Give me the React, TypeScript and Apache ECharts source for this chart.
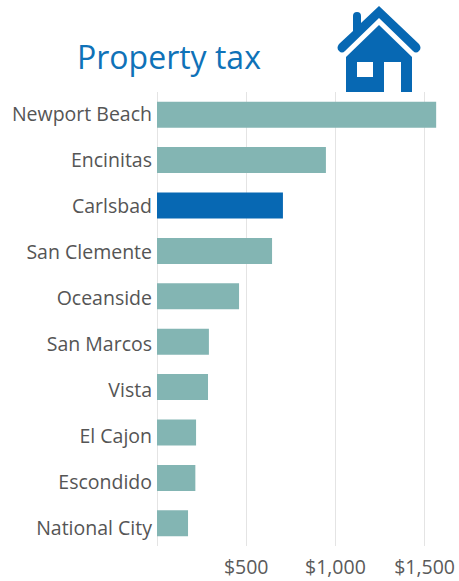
import React, { useEffect, useRef } from "react";
import * as echarts from "echarts";

const cities = [
  "Newport Beach",
  "Encinitas",
  "Carlsbad",
  "San Clemente",
  "Oceanside",
  "San Marcos",
  "Vista",
  "El Cajon",
  "Escondido",
  "National City",
];
const taxes = [1565, 947, 706, 645, 460, 291, 286, 219, 215, 174];
const highlighted = "Carlsbad";
const tickValues = [500, 1000, 1500];

const BAR = "#83b5b3";
const ACCENT = "#0768b3";
const FONT = "'Open Sans', sans-serif";

// Roof with chimney, then the walls with a door notch and a window hole.
const HOUSE =
  "M379 6 L419 44 Q422 48 419 51 Q416 54 413 51 L379 18 L345 51 Q342 54 339 51 Q336 48 339 44 " +
  "L353 31 L353 16 Q353 12 357 12 Q361 12 361 16 L361 23 Z " +
  "M379 25 L412 57 L412 92 L401 92 L401 62 L384 62 L384 92 L346 92 L346 57 Z " +
  "M357 62 L357 77 L373 77 L373 62 Z";

echarts.graphic.registerShape("house", echarts.graphic.extendPath(HOUSE, {}) as any);

export default function App() {
  const ref = useRef<HTMLDivElement>(null);

  useEffect(() => {
    document.body.style.margin = "0";
    const chart = echarts.init(ref.current!, null, { renderer: "svg" });
    chart.setOption({
      animation: false,
      backgroundColor: "#ffffff",
      title: {
        text: "Property tax",
        left: 72,
        top: 35,
        textStyle: { color: "#0f72b8", fontSize: 32, fontWeight: 400, fontFamily: FONT },
      },
      // The city names sit on a slightly taller band than the bars, so they get their own grid.
      grid: [
        { left: 157, top: 92, width: 285.4, height: 454 },
        { left: 157, top: 91, width: 285.4, height: 459 },
      ],
      xAxis: [
        {
          type: "value",
          gridIndex: 0,
          min: 0,
          max: 1600,
          interval: 500,
          axisLine: { show: false },
          axisTick: { show: false },
          splitLine: {
            show: true,
            showMaxLine: false,
            lineStyle: { color: "#e4e4e4", width: 1 },
          },
          axisLabel: {
            margin: 10,
            color: "#5a5a5a",
            fontSize: 19.5,
            fontFamily: FONT,
            formatter: (v: number) =>
              tickValues.includes(v) ? "$" + v.toLocaleString("en-US") : "",
          },
        },
        { type: "value", gridIndex: 1, show: false },
      ],
      yAxis: [
        {
          type: "category",
          gridIndex: 0,
          inverse: true,
          data: cities,
          axisLine: { show: false },
          axisTick: { show: false },
          axisLabel: { show: false },
        },
        {
          type: "category",
          gridIndex: 1,
          inverse: true,
          data: cities,
          axisLine: { show: false },
          axisTick: { show: false },
          axisLabel: { margin: 5, color: "#555555", fontSize: 19.5, fontFamily: FONT },
        },
      ],
      series: [
        {
          type: "bar",
          xAxisIndex: 0,
          yAxisIndex: 0,
          barWidth: 26,
          data: cities.map((name, i) => ({
            value: taxes[i],
            itemStyle: { color: name === highlighted ? ACCENT : BAR },
          })),
        },
      ],
      graphic: [
        { type: "house", x: 0, y: 0, style: { fill: ACCENT }, z: 10 },
      ],
    });
    return () => chart.dispose();
  }, []);

  return <div ref={ref} style={{ width: 459, height: 581 }} />;
}
